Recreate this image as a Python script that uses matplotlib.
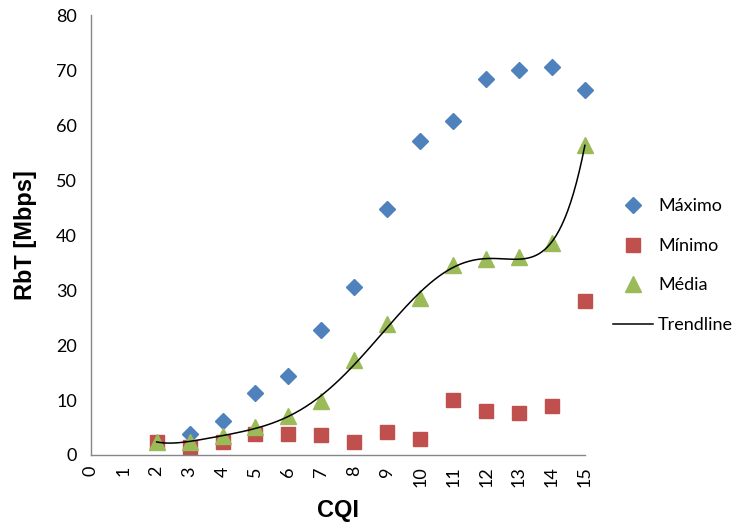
import numpy as np
import matplotlib
matplotlib.use("Agg")
import matplotlib.pyplot as plt

# CQI values and measured throughput (Mbps)
cqi_max = [3, 4, 5, 6, 7, 8, 9, 10, 11, 12, 13, 14, 15]
maximo = [3.8, 6.2, 11.3, 14.4, 22.7, 30.5, 44.7, 57.1, 60.7, 68.4, 70.0, 70.5, 66.4]
cqi = [2, 3, 4, 5, 6, 7, 8, 9, 10, 11, 12, 13, 14, 15]
minimo = [2.4, 1.5, 2.4, 3.8, 3.8, 3.6, 2.4, 4.2, 2.9, 10.0, 8.0, 7.6, 8.9, 28.0]
media = [2.4, 2.4, 3.5, 5.1, 7.1, 9.8, 17.3, 23.8, 28.5, 34.5, 35.6, 36.0, 38.5, 56.4]

blue = "#4F81BD"
red = "#C0504D"
green = "#9BBB59"
tick_font = "Lato"

fig = plt.figure(figsize=(7.32, 5.26), dpi=100)
ax = fig.add_axes([0.124, 0.135, 0.675, 0.836])

ax.plot(cqi_max, maximo, linestyle="none", marker="D", markersize=8.5,
        color=blue, label="Máximo", clip_on=False)
ax.plot(cqi, minimo, linestyle="none", marker="s", markersize=10,
        color=red, label="Mínimo", clip_on=False)
ax.plot(cqi, media, linestyle="none", marker="^", markersize=11,
        color=green, label="Média", clip_on=False)

# polynomial trendline (6th order) of the Média series, like Excel
coef = np.polyfit(cqi, media, 6)
xs = np.linspace(min(cqi), max(cqi), 300)
ax.plot(xs, np.polyval(coef, xs), color="black", linewidth=1.1,
        label="Trendline", clip_on=False)

ax.set_xlim(0, 15)
ax.set_ylim(0, 80)
ax.set_xticks(range(0, 16))
ax.set_yticks(range(0, 81, 10))

for s in ["top", "right"]:
    ax.spines[s].set_visible(False)
for s in ["left", "bottom"]:
    ax.spines[s].set_color("#868686")
    ax.spines[s].set_linewidth(1.0)
ax.tick_params(axis="both", length=0, colors="#868686", labelcolor="black")
ax.tick_params(axis="y", pad=10)
ax.tick_params(axis="x", pad=8)
for lab in ax.get_xticklabels():
    lab.set_rotation(90)
    lab.set_fontfamily(tick_font)
    lab.set_fontsize(13)
for lab in ax.get_yticklabels():
    lab.set_fontfamily(tick_font)
    lab.set_fontsize(13)

ax.set_xlabel("CQI", fontsize=17, fontweight="bold", family="Liberation Sans", labelpad=9)
ax.set_ylabel("RbT [Mbps]", fontsize=17, fontweight="bold", family="Liberation Sans", labelpad=14)

leg = ax.legend(loc="center left", bbox_to_anchor=(0.815, 0.495),
                bbox_transform=fig.transFigure, frameon=False,
                prop={"family": tick_font, "size": 13}, labelspacing=1.3,
                handlelength=2.2, handletextpad=0.3)

fig.savefig("out.png", dpi=100)
